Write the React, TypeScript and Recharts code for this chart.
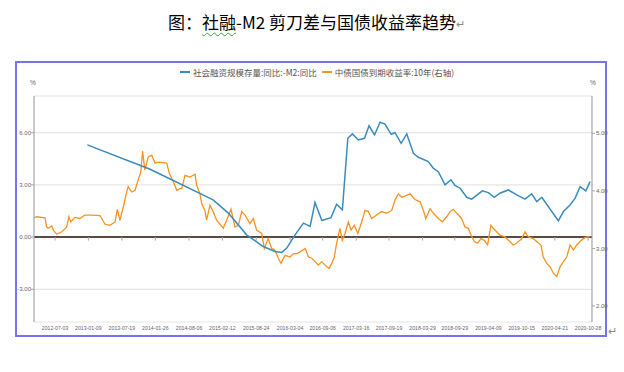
import React from "react";
import { LineChart, Line, XAxis, YAxis, CartesianGrid, ReferenceLine } from "recharts";

const xTickLabels = [
  "2012-07-03", "2013-01-09", "2013-07-19", "2014-01-26", "2014-08-06", "2015-02-12",
  "2015-08-24", "2016-03-04", "2016-09-06", "2017-03-16", "2017-09-19", "2018-03-29",
  "2018-09-29", "2019-04-09", "2019-10-15", "2020-04-21", "2020-10-28",
];
const leftTicks = [-3, 0, 3, 6];
const rightTicks = [2, 3, 4, 5];

const blueDates = [
  "2013-01-03", "2013-12-27", "2014-12-21", "2015-03-18", "2015-06-30", "2015-10-03",
  "2015-12-08", "2016-01-16", "2016-02-14", "2016-04-01", "2016-05-19", "2016-06-26",
  "2016-07-24", "2016-09-01", "2016-10-23", "2016-11-24", "2016-12-27", "2017-01-27",
  "2017-02-22", "2017-03-28", "2017-05-02", "2017-05-28", "2017-06-28", "2017-07-30",
  "2017-08-27", "2017-10-01", "2017-10-23", "2017-11-27", "2017-12-29", "2018-02-05",
  "2018-03-05", "2018-05-01", "2018-05-29", "2018-06-27", "2018-08-04", "2018-09-07",
  "2018-09-30", "2018-10-29", "2018-12-06", "2019-01-03", "2019-03-05", "2019-04-08",
  "2019-05-12", "2019-06-13", "2019-07-31", "2019-09-17", "2019-11-03", "2019-12-11",
  "2020-01-09", "2020-02-07", "2020-05-11", "2020-06-09", "2020-07-17", "2020-08-15",
  "2020-09-12", "2020-10-15", "2020-11-08",
];
const blueValues = [
  5.30, 3.90, 2.14, 1.38, 0.13, -0.54,
  -0.83, -0.88, -0.63, 0.13, 0.80, 0.61,
  1.99, 0.95, 1.12, 1.89, 1.57, 5.68,
  5.93, 5.58, 5.68, 6.40, 5.87, 6.60,
  6.50, 5.91, 6.00, 5.39, 5.93, 4.82,
  4.59, 4.34, 3.96, 3.76, 3.00, 3.29,
  2.97, 2.81, 2.29, 2.18, 2.66, 2.56,
  2.29, 2.52, 2.71, 2.43, 2.18, 2.48,
  2.04, 2.29, 0.94, 1.47, 1.85, 2.24,
  2.90, 2.66, 3.19,
];

const orangeDates = [
  "2012-03-05", "2012-03-20", "2012-05-07", "2012-05-16", "2012-05-25", "2012-06-14",
  "2012-06-27", "2012-07-12", "2012-08-10", "2012-09-07", "2012-09-20", "2012-09-30",
  "2012-10-24", "2012-11-22", "2012-12-20", "2013-01-28", "2013-03-16", "2013-03-26",
  "2013-04-14", "2013-05-12", "2013-06-10", "2013-06-23", "2013-07-08", "2013-07-27",
  "2013-08-15", "2013-08-24", "2013-09-13", "2013-10-02", "2013-10-20", "2013-11-04",
  "2013-11-14", "2013-11-27", "2013-12-16", "2014-01-05", "2014-01-24", "2014-02-12",
  "2014-03-12", "2014-04-01", "2014-04-16", "2014-05-08", "2014-05-28", "2014-06-16",
  "2014-06-25", "2014-07-14", "2014-08-11", "2014-09-09", "2014-09-18", "2014-10-07",
  "2014-10-17", "2014-11-04", "2014-11-14", "2014-12-03", "2014-12-21", "2015-01-10",
  "2015-02-17", "2015-03-08", "2015-04-02", "2015-04-25", "2015-05-14", "2015-06-02",
  "2015-06-21", "2015-07-19", "2015-08-07", "2015-08-26", "2015-09-24", "2015-10-09",
  "2015-10-31", "2015-11-20", "2015-12-09", "2015-12-28", "2016-01-12", "2016-02-04",
  "2016-03-04", "2016-03-23", "2016-04-11", "2016-04-30", "2016-05-29", "2016-06-17",
  "2016-07-06", "2016-07-24", "2016-08-12", "2016-08-31", "2016-09-19", "2016-10-12",
  "2016-10-27", "2016-11-11", "2016-11-24", "2016-12-13", "2016-12-26", "2017-01-11",
  "2017-01-30", "2017-02-14", "2017-03-05", "2017-03-25", "2017-04-16", "2017-05-05",
  "2017-05-24", "2017-06-12", "2017-07-10", "2017-08-08", "2017-09-06", "2017-10-04",
  "2017-10-23", "2017-11-11", "2017-11-30", "2017-12-19", "2018-01-17", "2018-02-14",
  "2018-03-15", "2018-04-03", "2018-04-16", "2018-05-11", "2018-05-30", "2018-06-27",
  "2018-07-20", "2018-08-14", "2018-09-02", "2018-09-21", "2018-10-10", "2018-10-29",
  "2018-11-07", "2018-11-26", "2018-12-15", "2018-12-31", "2019-01-18", "2019-02-06",
  "2019-02-25", "2019-03-16", "2019-04-04", "2019-04-23", "2019-05-06", "2019-05-25",
  "2019-06-13", "2019-07-11", "2019-08-09", "2019-08-28", "2019-09-16", "2019-10-15",
  "2019-11-03", "2019-11-22", "2019-12-20", "2020-01-09", "2020-02-02", "2020-02-15",
  "2020-03-06", "2020-03-25", "2020-04-13", "2020-05-02", "2020-05-21", "2020-06-09",
  "2020-06-28", "2020-07-17", "2020-08-05", "2020-08-24", "2020-09-12", "2020-10-01",
  "2020-10-20", "2020-11-08",
];
const orangeValues = [
  3.53, 3.55, 3.53, 3.37, 3.35, 3.39,
  3.30, 3.25, 3.29, 3.37, 3.55, 3.46,
  3.54, 3.52, 3.58, 3.58, 3.57, 3.52,
  3.42, 3.40, 3.46, 3.68, 3.49, 3.72,
  3.98, 4.07, 3.98, 4.01, 4.19, 4.33,
  4.69, 4.36, 4.59, 4.62, 4.48, 4.50,
  4.49, 4.48, 4.30, 4.16, 4.01, 4.04,
  4.04, 4.27, 4.24, 4.29, 4.10, 3.95,
  3.78, 3.66, 3.49, 3.75, 3.64, 3.49,
  3.35, 3.49, 3.68, 3.37, 3.40, 3.64,
  3.58, 3.43, 3.52, 3.32, 3.26, 3.00,
  3.17, 3.00, 2.97, 2.83, 2.74, 2.88,
  2.85, 2.91, 2.91, 2.94, 3.00, 2.85,
  2.83, 2.77, 2.71, 2.77, 2.71, 2.65,
  2.74, 2.85, 3.09, 3.35, 3.14, 3.26,
  3.46, 3.32, 3.40, 3.26, 3.46, 3.66,
  3.64, 3.52, 3.58, 3.64, 3.61, 3.66,
  3.84, 3.95, 3.89, 3.91, 3.95, 3.85,
  3.81, 3.66, 3.52, 3.69, 3.61, 3.52,
  3.46, 3.55, 3.64, 3.68, 3.61, 3.55,
  3.52, 3.37, 3.35, 3.23, 3.12, 3.09,
  3.17, 3.14, 3.06, 3.40, 3.35, 3.29,
  3.23, 3.20, 3.12, 3.06, 3.09, 3.17,
  3.29, 3.20, 3.17, 3.12, 3.06, 2.85,
  2.74, 2.68, 2.57, 2.51, 2.68, 2.77,
  2.85, 3.06, 2.97, 3.06, 3.12, 3.17,
  3.20, 3.20,
];

const xStart = "2012-03-05";
const xEnd = "2020-11-19";

const toTs = (s: string) => {
  const [y, m, d] = s.split("-").map(Number);
  return Date.UTC(y, m - 1, d);
};

const blueData = blueDates.map((d, i) => ({ t: toTs(d), v: blueValues[i] }));
const orangeData = orangeDates.map((d, i) => ({ t: toTs(d), v: orangeValues[i] }));
const tickTs = xTickLabels.map(toTs);
const labelByTs: Record<number, string> = {};
xTickLabels.forEach((l) => (labelByTs[toTs(l)] = l));

const BLUE = "#3a8cbd";
const ORANGE = "#f7931e";
const AXIS = "#a6a6a6";
const TXT = "#666666";
const FONT = "'Liberation Sans', Arial, sans-serif";
const CJK = "'Noto Sans CJK SC', sans-serif";

export default function App() {
  return (
    <div style={{ position: "absolute", left: 0, top: 0, width: 624, height: 372, background: "#fff", overflow: "hidden" }}>
      <div
        style={{
          position: "absolute", left: 0, top: 10, width: 624, textAlign: "center",
          fontFamily: CJK, fontSize: 17, lineHeight: "24px", color: "#000",
        }}
      >
        <span style={{ position: "relative" }}>
          图：<span style={{ textDecoration: "underline wavy #3aa83a", textDecorationThickness: 1, textUnderlineOffset: 3 }}>社融</span>-M2 剪刀差与国债收益率趋势
          <span style={{ position: "absolute", left: "100%", top: 2, fontSize: 11, color: "#888" }}>↵</span>
        </span>
      </div>

      <div
        style={{
          position: "absolute", left: 15, top: 61, width: 592, height: 276,
          border: "2px solid #7474f0", boxSizing: "border-box",
        }}
      />
      <div style={{ position: "absolute", left: 608, top: 322, fontSize: 11, color: "#888", fontFamily: CJK }}>↵</div>

      {/* legend */}
      <div style={{ position: "absolute", left: 180, top: 65, height: 14, display: "flex", alignItems: "center", fontFamily: CJK, fontSize: 8.5, color: "#555", whiteSpace: "nowrap" }}>
        <span style={{ display: "inline-block", width: 10, height: 2, background: BLUE, marginRight: 3 }} />
        <span>社会融资规模存量:同比:-M2:同比</span>
        <span style={{ display: "inline-block", width: 10, height: 2, background: ORANGE, marginLeft: 5, marginRight: 3 }} />
        <span>中债国债到期收益率:10年(右轴)</span>
      </div>

      <div style={{ position: "absolute", left: 30, top: 79, fontFamily: FONT, fontSize: 6.5, color: TXT }}>%</div>
      <div style={{ position: "absolute", left: 590, top: 79, fontFamily: FONT, fontSize: 6.5, color: TXT }}>%</div>

      <div style={{ position: "absolute", left: 0, top: 0 }}>
        <LineChart width={624} height={372} margin={{ top: 96, left: 14, right: 12, bottom: 30 }}>
          <CartesianGrid yAxisId="left" vertical={false} stroke="#e6e6e6" strokeWidth={1.2} />
          <XAxis
            dataKey="t"
            type="number"
            scale="time"
            domain={[toTs(xStart), toTs(xEnd)]}
            ticks={tickTs}
            tickFormatter={(v: number) => labelByTs[v] ?? ""}
            axisLine={false}
            tickLine={false}
            tickSize={0}
            tickMargin={4}
            height={20}
            interval={0}
            allowDataOverflow
            tick={{ fontSize: 5.2, fill: TXT, fontFamily: FONT }}
          />
          <YAxis
            yAxisId="left"
            orientation="left"
            type="number"
            domain={[-4.88, 8.11]}
            ticks={leftTicks}
            tickFormatter={(v: number) => v.toFixed(2)}
            width={20}
            allowDataOverflow
            axisLine={{ stroke: AXIS, strokeWidth: 1.2 }}
            tickLine={{ stroke: AXIS }}
            tickSize={3}
            tickMargin={0}
            tick={{ fontSize: 6, fill: TXT, fontFamily: FONT }}
          />
          <YAxis
            yAxisId="right"
            orientation="right"
            type="number"
            domain={[1.722, 5.648]}
            ticks={rightTicks}
            tickFormatter={(v: number) => v.toFixed(2)}
            width={20}
            allowDataOverflow
            axisLine={{ stroke: AXIS, strokeWidth: 1.2 }}
            tickLine={{ stroke: AXIS }}
            tickSize={3}
            tickMargin={1}
            tick={{ fontSize: 6, fill: TXT, fontFamily: FONT }}
          />
          <ReferenceLine yAxisId="left" y={0} stroke="#5b4a44" strokeWidth={2} />
          {tickTs.map((t) => (
            <ReferenceLine
              key={t}
              yAxisId="left"
              segment={[{ x: t, y: 0 }, { x: t, y: -0.2 }]}
              stroke={AXIS}
              strokeWidth={1}
            />
          ))}
          <Line
            yAxisId="right"
            data={orangeData}
            dataKey="v"
            type="linear"
            stroke={ORANGE}
            strokeWidth={1.3}
            dot={false}
            isAnimationActive={false}
          />
          <Line
            yAxisId="left"
            data={blueData}
            dataKey="v"
            type="linear"
            stroke={BLUE}
            strokeWidth={1.5}
            dot={false}
            isAnimationActive={false}
          />
        </LineChart>
      </div>
    </div>
  );
}
